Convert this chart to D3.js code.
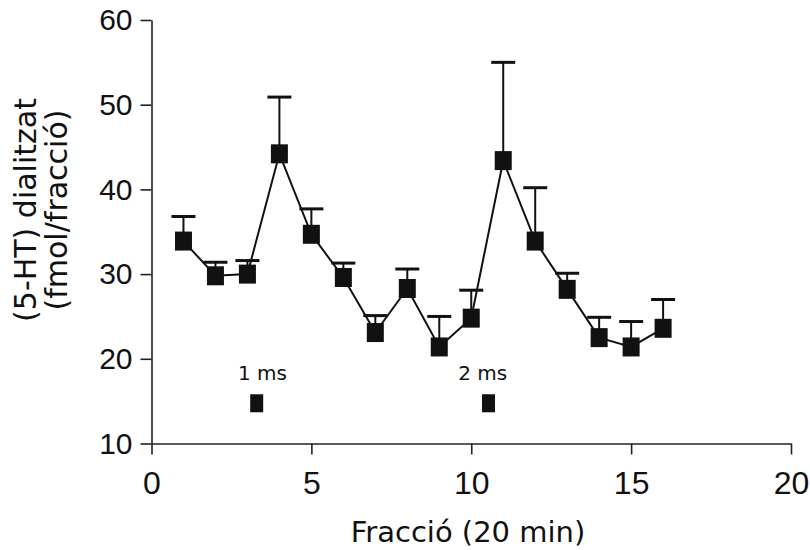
<!DOCTYPE html>
<html>
<head>
<meta charset="utf-8">
<script src="https://cdn.jsdelivr.net/npm/d3@7"></script>
<style>
    body { margin: 0; background: #fff; }
    .axis text { font-family: "Liberation Sans", Arial, sans-serif; fill: #111; }
    .axis path, .axis line { stroke: #222; stroke-width: 1.6; }
    .titol { font-family: "DejaVu Sans", sans-serif; fill: #111; }
</style>
</head>
<body>
<svg id="grafic" width="810" height="550"></svg>
<script>
// fraccions de 20 min i 5-HT dialitzat (fmol/fraccio), mitjana + SEM
var fraccions = [1, 2, 3, 4, 5, 6, 7, 8, 9, 10, 11, 12, 13, 14, 15, 16];
var dialitzat = [33.9, 29.8, 30.0, 44.2, 34.7, 29.6, 23.1, 28.3, 21.4, 24.8, 43.4, 33.9, 28.2, 22.5, 21.4, 23.6];
var sem = [2.9, 1.6, 1.6, 6.7, 3.0, 1.7, 2.0, 2.3, 3.6, 3.3, 11.6, 6.3, 1.9, 2.4, 3.0, 3.4];

// estimuls
var estimulX = [3.29, 10.54];
var estimulY = [14.75, 14.75];
var estimulText = ["1 ms", "2 ms"];
var estimulTextX = [3.47, 10.36];
var estimulTextY = [17.5, 17.5];

var xTicks = [0, 5, 10, 15, 20];
var yTicks = [10, 20, 30, 40, 50, 60];

drawGraph();

function drawGraph() {
    var svg = d3.select('#grafic');
    var margin = {top: 20, left: 151.5};
    var width = 639.5;
    var height = 423.5;
    var g = svg.append('g').attr('transform', 'translate(' + margin.left + ',' + margin.top + ')');

    var x = d3.scaleLinear().domain([0, 20]).range([0, width]);
    var y = d3.scaleLinear().domain([10, 60]).range([height, 0]);

    var data = fraccions.map((f, i) => {
        return {x: f, y: dialitzat[i], e: sem[i]};
    });

    g.append('g')
        .attr('class', 'axis')
        .attr('transform', 'translate(0,' + height + ')')
        .call(d3.axisBottom(x).tickValues(xTicks).tickSize(11).tickSizeOuter(0).tickPadding(17))
        .selectAll('text').style('font-size', '32px');

    g.append('g')
        .attr('class', 'axis')
        .call(d3.axisLeft(y).tickValues(yTicks).tickSize(11).tickSizeOuter(0).tickPadding(8))
        .selectAll('text').style('font-size', '30px');

    // barres d'error (nomes cap amunt)
    var err = g.append('g').attr('stroke', '#111');
    err.selectAll('.tija')
        .data(data)
        .enter().append('line')
        .attr('x1', (d) => x(d.x))
        .attr('x2', (d) => x(d.x))
        .attr('y1', (d) => y(d.y))
        .attr('y2', (d) => y(d.y + d.e))
        .attr('stroke-width', 2);
    err.selectAll('.cap')
        .data(data)
        .enter().append('line')
        .attr('x1', (d) => x(d.x) - 12)
        .attr('x2', (d) => x(d.x) + 12)
        .attr('y1', (d) => y(d.y + d.e))
        .attr('y2', (d) => y(d.y + d.e))
        .attr('stroke-width', 3);

    var line = d3.line()
        .x((d) => x(d.x))
        .y((d) => y(d.y));

    g.append('path')
        .datum(data)
        .attr('fill', 'none')
        .attr('stroke', '#111')
        .attr('stroke-width', 2)
        .attr('d', line);

    g.selectAll('.punt')
        .data(data)
        .enter().append('rect')
        .attr('x', (d) => x(d.x) - 8.5)
        .attr('y', (d) => y(d.y) - 9.5)
        .attr('width', 17)
        .attr('height', 19)
        .attr('fill', '#111');

    // estimuls
    g.selectAll('.estimul')
        .data(estimulX)
        .enter().append('rect')
        .attr('x', (d) => x(d) - 6.5)
        .attr('y', (d, i) => y(estimulY[i]) - 9)
        .attr('width', 13)
        .attr('height', 18)
        .attr('fill', '#111');

    g.selectAll('.estimulText')
        .data(estimulText)
        .enter().append('text')
        .attr('class', 'titol')
        .attr('x', (d, i) => x(estimulTextX[i]))
        .attr('y', (d, i) => y(estimulTextY[i]))
        .attr('text-anchor', 'middle')
        .style('font-size', '20px')
        .text((d) => d);

    svg.append('text')
        .attr('class', 'titol')
        .attr('x', 468)
        .attr('y', 542)
        .attr('text-anchor', 'middle')
        .style('font-size', '29px')
        .text('Fracció (20 min)');

    var yt = svg.append('text')
        .attr('class', 'titol')
        .attr('transform', 'translate(36,210) rotate(-90)')
        .attr('text-anchor', 'middle')
        .style('font-size', '30px');
    yt.append('tspan').attr('x', 0).attr('y', 0).text('(5-HT) dialitzat');
    yt.append('tspan').attr('x', 0).attr('y', 31).text('(fmol/fracció)');
}
</script>
</body>
</html>
